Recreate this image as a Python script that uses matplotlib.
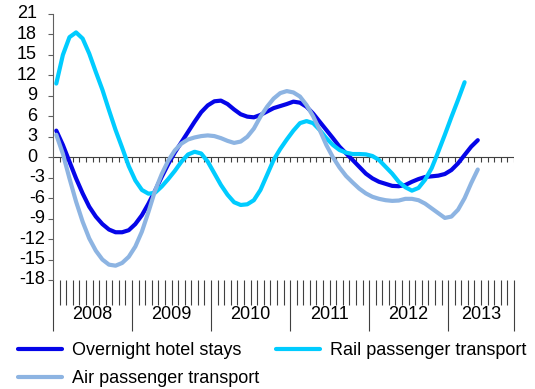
import numpy as np
import matplotlib
matplotlib.use("Agg")
import matplotlib.pyplot as plt
import matplotlib.transforms as mtransforms

plt.rcParams['font.family'] = ['Liberation Sans', 'DejaVu Sans']
plt.rcParams['axes.unicode_minus'] = False

# monthly series, Jan 2008 onwards (% change)
hotel = [3.9, 1.8, -0.65, -3.1, -5.3, -7.25, -8.7, -9.8, -10.6, -11.0, -11.0, -10.7,
         -9.8, -8.5, -6.8, -4.9, -2.9, -1.0, 0.7, 2.2, 3.7, 5.2, 6.6, 7.6,
         8.2, 8.3, 7.8, 7.0, 6.3, 5.95, 5.85, 6.2, 6.7, 7.2, 7.5, 7.8,
         8.15, 8.0, 7.4, 6.4, 5.2, 4.0, 2.8, 1.55, 0.57, -0.4, -1.4, -2.4,
         -3.1, -3.6, -3.9, -4.2, -4.25, -4.07, -3.6, -3.2, -2.9, -2.8, -2.7, -2.46,
         -1.87, -0.9, 0.33, 1.55, 2.5]
rail = [10.8, 15.0, 17.6, 18.3, 17.4, 15.2, 12.5, 9.9, 6.9, 4.0, 1.4, -1.3,
        -3.4, -4.8, -5.35, -5.2, -4.3, -3.2, -2.0, -0.65, 0.4, 0.8, 0.55, -0.65,
        -2.36, -4.07, -5.5, -6.6, -7.0, -6.9, -6.3, -4.8, -2.6, -0.4, 1.2, 2.6,
        3.9, 5.0, 5.3, 5.0, 4.0, 2.8, 1.8, 1.06, 0.67, 0.47, 0.47, 0.42,
        0.18, -0.4, -1.4, -2.4, -3.6, -4.4, -4.9, -4.5, -3.3, -1.6, 0.8, 3.3,
        5.9, 8.4, 11.0]
air = [3.3, 0.5, -3.1, -6.5, -9.45, -11.9, -13.7, -15.0, -15.75, -15.9, -15.5, -14.6,
       -13.1, -10.9, -8.0, -4.9, -2.5, -0.5, 1.0, 2.0, 2.6, 2.9, 3.1, 3.2,
       3.1, 2.8, 2.4, 2.1, 2.3, 3.0, 4.2, 5.95, 7.4, 8.6, 9.4, 9.7,
       9.5, 8.9, 7.65, 6.0, 4.0, 1.8, 0.0, -1.5, -2.75, -3.7, -4.6, -5.3,
       -5.8, -6.1, -6.3, -6.4, -6.35, -6.1, -6.1, -6.3, -6.8, -7.5, -8.2, -8.9,
       -8.7, -7.7, -6.0, -3.8, -1.8]

years = ['2008', '2009', '2010', '2011', '2012', '2013']
months_per_year = [12, 12, 12, 12, 12, 10]
yticks = list(range(-18, 22, 3))

c_hotel = '#0505E8'
c_rail = '#00CCFF'
c_air = '#8DB4E2'
axis_col = '#404040'
fs = 13

fig = plt.figure(figsize=(5.35, 3.89), dpi=100)
ax = fig.add_axes([53 / 535, 1 - 280 / 389, 461 / 535, 266 / 389])

n_months = sum(months_per_year)
bounds = np.concatenate([[0], np.cumsum(months_per_year)])

h1, = ax.plot(np.arange(len(hotel)) + 0.5, hotel, color=c_hotel, lw=3,
              solid_capstyle='round', solid_joinstyle='round', zorder=3,
              label='Overnight hotel stays')
h2, = ax.plot(np.arange(len(rail)) + 0.5, rail, color=c_rail, lw=3,
              solid_capstyle='round', solid_joinstyle='round', zorder=4,
              label='Rail passenger transport')
h3, = ax.plot(np.arange(len(air)) + 0.5, air, color=c_air, lw=3,
              solid_capstyle='round', solid_joinstyle='round', zorder=5,
              label='Air passenger transport')

ax.set_xlim(0, n_months)
ax.set_ylim(yticks[0], yticks[-1])

# zero line with small month ticks hanging below it
ax.axhline(0, color=axis_col, lw=0.8, zorder=2)
ax.vlines(np.arange(1, n_months + 1), -0.75, 0, color=axis_col, lw=0.8, zorder=2)

for s in ['top', 'right', 'bottom']:
    ax.spines[s].set_visible(False)
ax.spines['left'].set_color('#606060')
ax.spines['left'].set_linewidth(0.8)

# y axis: labels drawn by hand so positive numbers keep Excel's trailing gap
ax.set_yticks(yticks)
ax.tick_params(axis='y', direction='out', length=3.6, width=0.8, color='#606060',
               labelleft=False)
ytrans = mtransforms.blended_transform_factory(ax.transAxes, ax.transData)
for v in yticks:
    off = -16 / 461 if v >= 0 else -8 / 461
    ax.text(off, v, str(v), transform=ytrans, ha='right', va='center', fontsize=fs)

# x axis: month ticks and long year separators
ax.set_xticks(bounds)
ax.set_xticks(np.arange(n_months + 1), minor=True)
ax.tick_params(axis='x', which='major', direction='out', length=37, width=0.8,
               color=axis_col, labelbottom=False)
ax.tick_params(axis='x', which='minor', direction='out', length=18, width=0.8,
               color=axis_col)
xtrans = mtransforms.blended_transform_factory(ax.transData, ax.transAxes)
for i, yr in enumerate(years):
    ax.text((bounds[i] + bounds[i + 1]) / 2, -0.128, yr, transform=xtrans,
            ha='center', va='center', fontsize=fs)

fig.legend(handles=[h1, h3, h2], ncol=2, loc='upper left',
           bbox_to_anchor=(18 / 535, 1 - 342 / 389), frameon=False, fontsize=fs,
           handlelength=2.45, handletextpad=0.55, columnspacing=0.9,
           labelspacing=0.62, borderaxespad=0, borderpad=0)

fig.savefig('out.png', dpi=100)
